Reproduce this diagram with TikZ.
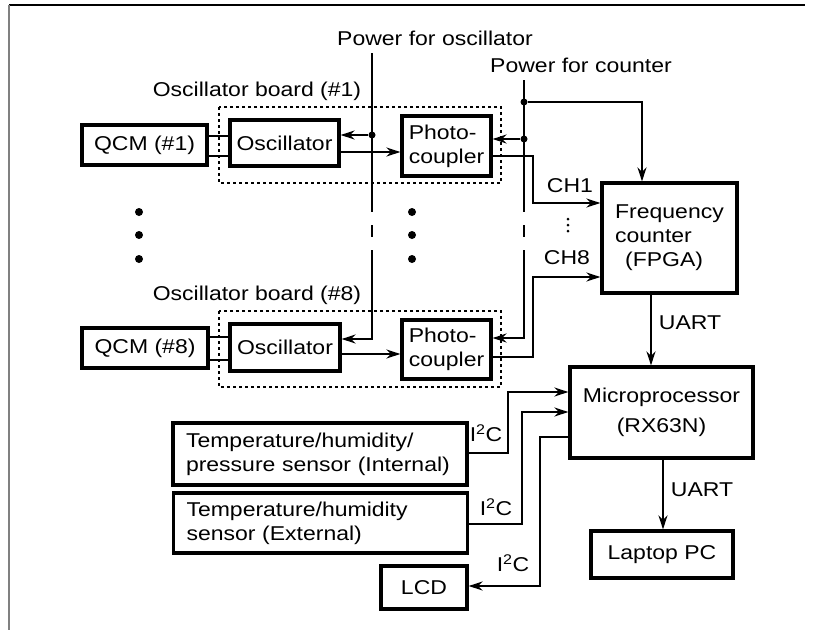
\documentclass[tikz,border=0pt]{standalone}
\usepackage{fontspec}
\setmainfont{Liberation Sans}[FakeStretch=1.15]
\usetikzlibrary{arrows.meta}

\begin{document}
\begin{tikzpicture}[
  x=1pt, y=-1pt,
  font=\fontsize{20}{24}\selectfont,
  box/.style={draw, line width=3.2pt, inner sep=2pt},
  sensor/.style={box, text width=268pt, inner xsep=13pt, align=left},
  board/.style={draw, line width=2.2pt, dash pattern=on 3pt off 3pt},
  wire/.style={line width=2.5pt},
  jdot/.style={circle, fill, inner sep=0pt, minimum size=7pt},
  bigdot/.style={circle, fill, inner sep=0pt, minimum size=8pt},
  smalldot/.style={circle, fill, inner sep=0pt, minimum size=3pt},
  >={Stealth[length=14pt,width=9pt]}
]
  \useasboundingbox (0,0) rectangle (815,630);
  \draw[line width=1.2pt] (9,5) -- (805,5);
  \draw[gray, line width=2pt] (9,5) -- (9,630);

  % oscillator channels #1 and #8
  \node[box, minimum width=125pt, minimum height=40pt] (qcm1) at (144.5,145) {QCM (\#1)};
  \node[box, minimum width=109pt, minimum height=46pt] (osc1) at (284.5,143) {Oscillator};
  \node[box, minimum width=89pt, minimum height=60pt, align=left] (pc1) at (446.5,146) {Photo-\\coupler};
  \node[box, minimum width=126pt, minimum height=40pt] (qcm8) at (145,348) {QCM (\#8)};
  \node[box, minimum width=110pt, minimum height=47pt] (osc8) at (285,347.5) {Oscillator};
  \node[box, minimum width=89pt, minimum height=59pt, align=left] (pc8) at (446.5,349.5) {Photo-\\coupler};
  \draw[board] (219,107) rectangle (501,183);
  \draw[board] (219,311) rectangle (501,387);
  \node (brd1) at (257,91) {Oscillator board (\#1)};
  \node (brd8) at (257,295) {Oscillator board (\#8)};

  % counter, processor and peripherals
  \node[box, minimum width=135pt, minimum height=110pt, align=left] (fc) at (669.5,238) {Frequency\\counter\\\hspace*{0.5em}(FPGA)};
  \node[box, minimum width=183pt, minimum height=91pt, align=center] (mcu) at (661.5,412.5) {Microprocessor\\[6pt](RX63N)};
  \node[box, minimum width=142pt, minimum height=47pt] (laptop) at (662,554.5) {Laptop PC};
  \node[sensor, minimum height=62pt] (sens1) at (320,454) {Temperature/humidity/\\pressure sensor (Internal)};
  \node[sensor, minimum height=60pt] (sens2) at (320.5,523) {Temperature/humidity\\sensor (External)};
  \node[box, minimum width=86pt, minimum height=43pt] (lcd) at (424,587.5) {LCD};

  % QCM to oscillator
  \draw[wire] (qcm1.east |- 0,136) -- (osc1.west |- 0,136);
  \draw[wire] (qcm1.east |- 0,156) -- (osc1.west |- 0,156);
  \draw[wire] (qcm8.east |- 0,337) -- (osc8.west |- 0,337);
  \draw[wire] (qcm8.east |- 0,360) -- (osc8.west |- 0,360);
  \draw[wire,->] (osc1.east |- 0,152) -- (pc1.west |- 0,152);
  \draw[wire,->] (osc8.east |- 0,354) -- (pc8.west |- 0,354);

  % power rails
  \node (posc) at (435,38) {Power for oscillator};
  \node (pcnt) at (581,65) {Power for counter};
  \coordinate (oscrail) at (372,53);
  \coordinate (cntrail) at (524,80);
  \draw[wire] (oscrail) -- (372,212);
  \draw[wire] (372,225) -- (372,237);
  \draw[wire,->] (372,250) |- (osc8.east |- 0,339);
  \node[jdot] (t1) at (372,135) {};
  \draw[wire,->] (t1) -- (osc1.east |- t1);
  \draw[wire] (cntrail) -- (524,212);
  \draw[wire] (524,225) -- (524,237);
  \draw[wire,->] (524,250) |- (pc8.east |- 0,338);
  \node[jdot] (t2) at (524,102) {};
  \coordinate (fcin) at (642,102);
  \draw[wire,->] (t2) -- (fcin) -- (fcin |- fc.north);
  \node[jdot] (t3) at (524,139) {};
  \draw[wire,->] (t3) -- (pc1.east |- t3);

  % counter channels
  \coordinate (ch1) at (533,203);
  \coordinate (ch8) at (533,277);
  \draw[wire,->] (pc1.east |- 0,156) -| (ch1) -- (fc.west |- ch1);
  \draw[wire,->] (pc8.east |- 0,357) -| (ch8) -- (fc.west |- ch8);
  \node (lch1) at (570,186) {CH1};
  \node (lch8) at (567,258) {CH8};
  \foreach \y in {219,225,231} \node[smalldot] at (568,\y) {};
  \foreach \y in {212,235,259} {
    \node[bigdot] at (139,\y) {};
    \node[bigdot] at (412,\y) {};
  }

  % serial links
  \draw[wire,->] (fc.south -| 651,0) -- (mcu.north -| 651,0);
  \node (uart1) at (690,323) {UART};
  \draw[wire,->] (mcu.south -| 663,0) -- (laptop.north -| 663,0);
  \node (uart2) at (702,490) {UART};

  % I2C bus
  \coordinate (s1) at (508,392);
  \coordinate (s2) at (522,412);
  \coordinate (l1) at (540,586);
  \draw[wire,->] (sens1.east |- 0,453) -| (s1) -- (mcu.west |- s1);
  \draw[wire,->] (sens2.east |- 0,524) -| (s2) -- (mcu.west |- s2);
  \draw[wire,->] (mcu.west |- 0,437) -| (l1) -- (lcd.east |- l1);
  \node (i2c1) at (486,433) {I\textsuperscript{2}C};
  \node (i2c2) at (496,507) {I\textsuperscript{2}C};
  \node (i2c3) at (513,563) {I\textsuperscript{2}C};
\end{tikzpicture}
\end{document}
